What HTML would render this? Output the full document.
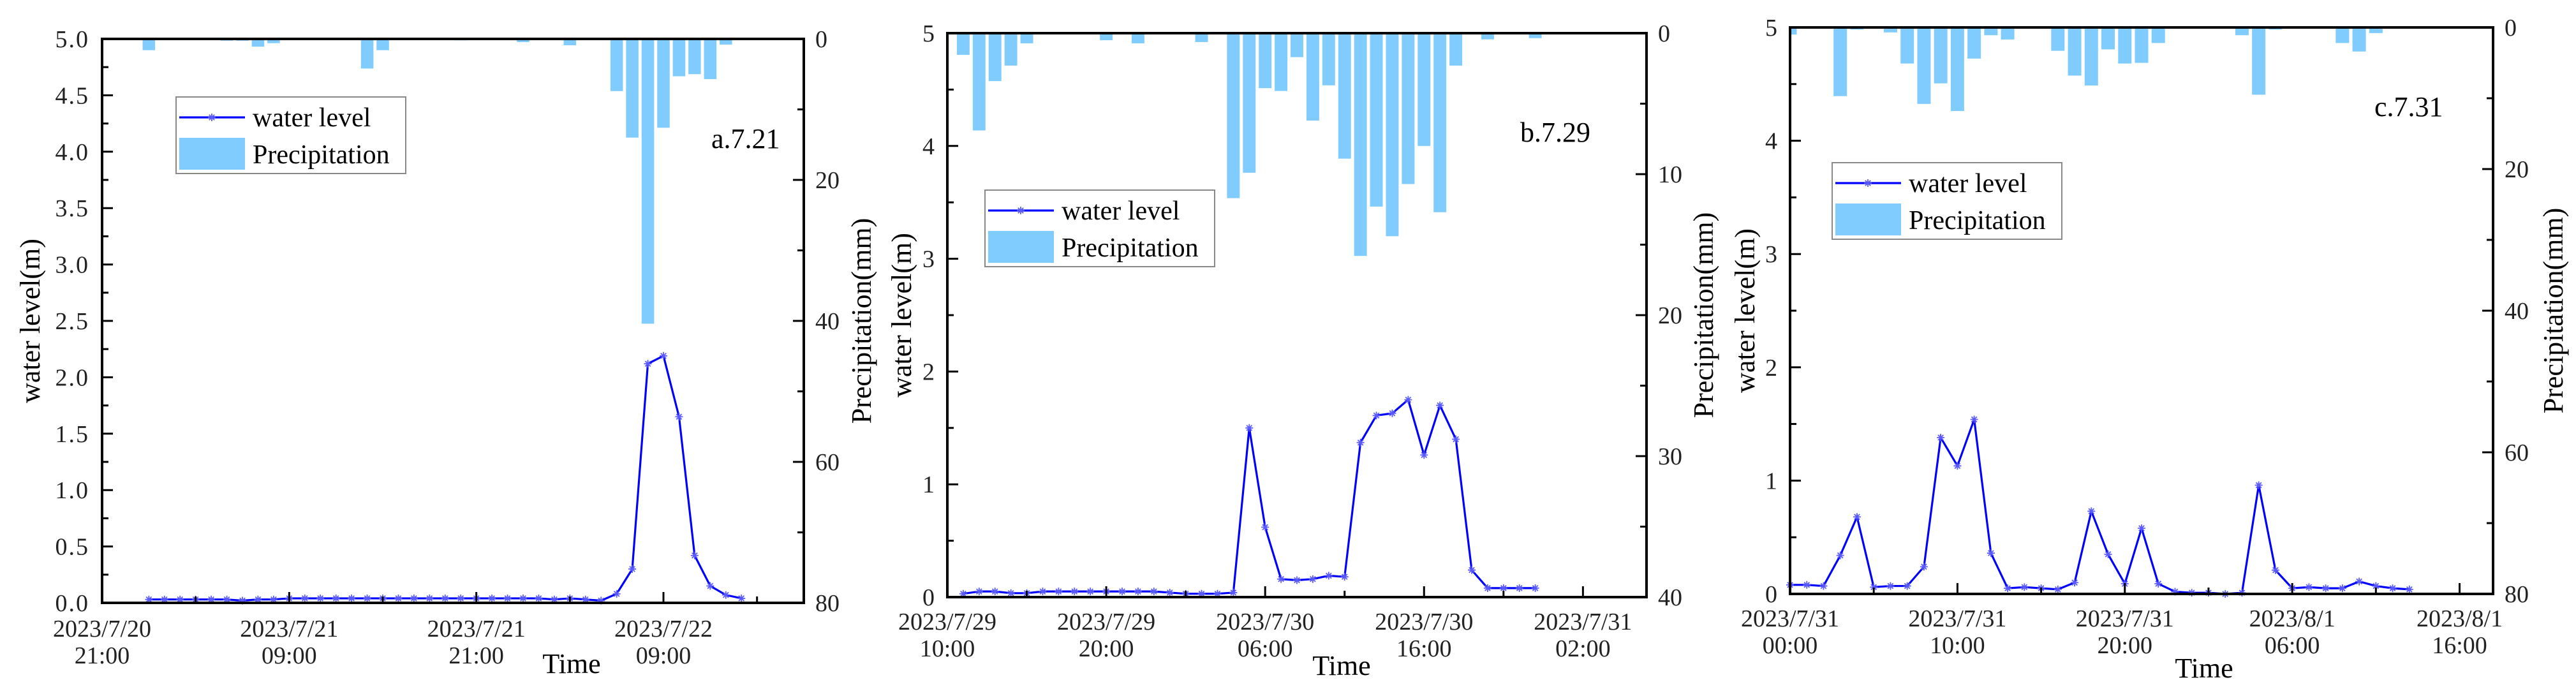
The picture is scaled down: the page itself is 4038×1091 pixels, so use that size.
<!DOCTYPE html>
<html><head><meta charset="utf-8"><style>
html,body{margin:0;padding:0;background:#fff;}
svg{display:block;font-family:"Liberation Serif","Times New Roman",serif;}
</style></head><body>
<svg id="fig" xmlns="http://www.w3.org/2000/svg" width="4038" height="1091" viewBox="0 0 4038 1091"></svg>
<script>
// ---- Panel a (7.21) data: hour offsets from 2023/7/20 21:00 ----
const aHours = [3,4,5,6,7,8,9,10,11,12,13,14,15,16,17,18,19,20,21,22,23,24,25,26,27,28,29,30,31,32,33,34,35,36,37,38,39,40,41];
const aLevel = [0.03,0.03,0.03,0.03,0.03,0.03,0.02,0.03,0.03,0.04,0.04,0.04,0.04,0.04,0.04,0.04,0.04,0.04,0.04,0.04,0.04,0.04,0.04,0.04,0.04,0.04,0.03,0.04,0.03,0.02,0.08,0.30,2.12,2.19,1.65,0.42,0.15,0.07,0.04];
const aRainHours = [3,8,9,10,11,17,18,23,27,30,33,34,35,36,37,38,39,40];
const aRain = [1.6,0.25,0.25,1.1,0.6,4.2,1.6,0.2,0.45,0.9,7.4,14.0,40.4,12.6,5.3,5.0,5.7,0.8];
const aXTicks = ["2023/7/20|21:00","2023/7/21|09:00","2023/7/21|21:00","2023/7/22|09:00"];
const aYTicks = ["0.0","0.5","1.0","1.5","2.0","2.5","3.0","3.5","4.0","4.5","5.0"];
const aRTicks = ["0","20","40","60","80"];

// ---- Panel b (7.29) data: hour offsets from 2023/7/29 10:00 ----
const bHours = [1,2,3,4,5,6,7,8,9,10,11,12,13,14,15,16,17,18,19,20,21,22,23,24,25,26,27,28,29,30,31,32,33,34,35,36,37];
const bLevel = [0.03,0.05,0.05,0.035,0.035,0.05,0.05,0.05,0.05,0.05,0.05,0.05,0.05,0.04,0.03,0.03,0.03,0.04,1.50,0.62,0.16,0.15,0.16,0.19,0.18,1.37,1.61,1.63,1.75,1.26,1.70,1.40,0.24,0.08,0.08,0.08,0.08];
const bRainHours = [1,2,3,4,5,10,12,13,16,17,18,19,20,21,22,23,24,25,26,27,28,29,30,31,32,34,37];
const bRain = [1.54,6.9,3.4,2.3,0.72,0.5,0.72,0.06,0.63,0.05,11.7,9.9,3.9,4.1,1.7,6.2,3.7,8.9,15.8,12.3,14.4,10.7,8.0,12.7,2.3,0.44,0.35];
const bXTicks = ["2023/7/29|10:00","2023/7/29|20:00","2023/7/30|06:00","2023/7/30|16:00","2023/7/31|02:00"];
const bYTicks = ["0","1","2","3","4","5"];
const bRTicks = ["0","10","20","30","40"];

// ---- Panel c (7.31) data: hour offsets from 2023/7/31 00:00 ----
const cHours = [0,1,2,3,4,5,6,7,8,9,10,11,12,13,14,15,16,17,18,19,20,21,22,23,24,25,26,27,28,29,30,31,32,33,34,35,36,37];
const cLevel = [0.08,0.08,0.07,0.34,0.68,0.06,0.07,0.07,0.24,1.38,1.13,1.54,0.36,0.05,0.06,0.05,0.04,0.10,0.73,0.35,0.09,0.58,0.09,0.02,0.01,0.01,0.0,0.01,0.96,0.21,0.05,0.06,0.05,0.05,0.11,0.07,0.05,0.04];
const cRainHours = [0,3,4,6,7,8,9,10,11,12,13,16,17,18,19,20,21,22,27,28,29,33,34,35];
const cRain = [1.0,9.7,0.3,0.7,5.1,10.8,7.9,11.8,4.4,1.1,1.7,3.3,6.8,8.2,3.1,5.1,5.0,2.2,1.1,9.5,0.3,2.2,3.4,0.8];
const cXTicks = ["2023/7/31|00:00","2023/7/31|10:00","2023/7/31|20:00","2023/8/1|06:00","2023/8/1|16:00"];
const cYTicks = ["0","1","2","3","4","5"];
const cRTicks = ["0","20","40","60","80"];

const NS = "http://www.w3.org/2000/svg";
const svg = document.getElementById("fig");
function mk(tag, attrs, parent, text){
  const e = document.createElementNS(NS, tag);
  for (const k in attrs) e.setAttribute(k, attrs[k]);
  if (text !== undefined) e.textContent = text;
  (parent || svg).appendChild(e);
  return e;
}

function panel(cfg){
  const g = mk("g", {});
  
  
  const L=cfg.L, R=cfg.R, T=cfg.T, B=cfg.B;
  const xs = h => L + (h - 0) / cfg.xMax * (R - L);
  const ys = v => B - v / cfg.yMax * (B - T);
  const rs = v => T + v / cfg.rMax * (B - T);
  // bars
  const bw = (R-L)/cfg.xMax*0.8;
  cfg.rainH.forEach((h,i)=>{
    let x0 = xs(h)-bw/2, x1 = xs(h)+bw/2;
    if (x0 < L) x0 = L;
    const r = mk("rect", {x:x0, y:T, width:x1-x0, height:rs(cfg.rain[i])-T, fill:"#80ccff"}, g);
    
    
  });
  // line
  const pts = cfg.hours.map((h,i)=>xs(h)+","+ys(cfg.level[i])).join(" ");
  const pl = mk("polyline", {points:pts, fill:"none", stroke:"#0000ff", "stroke-width":3.2}, g);
  
  
  cfg.hours.forEach((h,i)=>{
    const cx=xs(h), cy=ys(cfg.level[i]), s=6;
    const m = mk("path", {d:`M${cx-s},${cy}H${cx+s}M${cx},${cy-s}V${cy+s}M${cx-s*0.7},${cy-s*0.7}L${cx+s*0.7},${cy+s*0.7}M${cx-s*0.7},${cy+s*0.7}L${cx+s*0.7},${cy-s*0.7}`, stroke:"#5a5aff", "stroke-width":1.8, fill:"none"}, g);
    
    
  });
  // frame
  const fr = mk("rect", {x:L, y:T, width:R-L, height:B-T, fill:"none", stroke:"#000", "stroke-width":4}, g);
  
  
  // left ticks
  const ny = cfg.yTicks.length-1;
  for (let i=0;i<=ny*2;i++){
    const v = cfg.yMax*i/(ny*2), y=ys(v), len = i%2===0?17:10;
    mk("line",{x1:L,y1:y,x2:L+len,y2:y,stroke:"#000","stroke-width":3},g);
  }
  cfg.yTicks.forEach((t,i)=>{
    const tx = mk("text",{x:L-20,y:ys(cfg.yMax*i/ny)+13,"text-anchor":"end","font-size":38,fill:"#222","letter-spacing":cfg.ls||0},g,t);
    
    
  });
  // right ticks
  const nr = cfg.rTicks.length-1;
  for (let i=0;i<=nr*2;i++){
    const y = rs(cfg.rMax*i/(nr*2)), len = i%2===0?17:10;
    mk("line",{x1:R,y1:y,x2:R-len,y2:y,stroke:"#000","stroke-width":3},g);
  }
  cfg.rTicks.forEach((t,i)=>{
    const tx = mk("text",{x:R+18,y:rs(cfg.rMax*i/nr)+13,"font-size":38,fill:"#222"},g,t);
    
    
  });
  // x ticks
  const nsteps = Math.floor(cfg.xMax/(cfg.xStep/2)+1e-6);
  for (let i=0;i<=nsteps;i++){
    const x = xs(i*cfg.xStep/2), len = i%2===0?17:10;
    mk("line",{x1:x,y1:B,x2:x,y2:B-len,stroke:"#000","stroke-width":3},g);
  }
  cfg.xTicks.forEach((t,i)=>{
    const x = xs(i*cfg.xStep), parts=t.split("|");
    const tx = mk("text",{x:x,y:cfg.xl1,"text-anchor":"middle","font-size":38,fill:"#222"},g,parts[0]);
    
    
    const tx2 = mk("text",{x:x,y:cfg.xl1+42,"text-anchor":"middle","font-size":38,fill:"#222"},g,parts[1]);
    
    
  });
  // titles
  const xt = mk("text",{x:cfg.timeX,y:cfg.timeY,"text-anchor":"middle","font-size":44,fill:"#000"},g,"Time");
  
  
  const yt = mk("text",{x:0,y:0,"text-anchor":"middle","font-size":44,fill:"#000",transform:`translate(${cfg.ytX},${(T+B)/2}) rotate(-90)`},g,"water level(m)");
  
  
  const rt = mk("text",{x:0,y:0,"text-anchor":"middle","font-size":44,fill:"#000",transform:`translate(${cfg.rtX},${(T+B)/2}) rotate(-90)`},g,"Precipitation(mm)");
  
  
  const pl2 = mk("text",{x:cfg.labX,y:cfg.labY,"font-size":44,fill:"#000"},g,cfg.label);
  
  
  // legend
  const lg = mk("g",{},g);
  
  
  const lx=cfg.legX, ly=cfg.legY;
  mk("rect",{x:lx,y:ly,width:360,height:120,fill:"#fff",stroke:"#888","stroke-width":2},lg);
  mk("line",{x1:lx+5,y1:ly+32,x2:lx+108,y2:ly+32,stroke:"#0000ff","stroke-width":3.2},lg);
  const cx=lx+56, cy=ly+32, s=6;
  mk("path",{d:`M${cx-s},${cy}H${cx+s}M${cx},${cy-s}V${cy+s}M${cx-s*0.7},${cy-s*0.7}L${cx+s*0.7},${cy+s*0.7}M${cx-s*0.7},${cy+s*0.7}L${cx+s*0.7},${cy-s*0.7}`,stroke:"#5a5aff","stroke-width":1.8},lg);
  const l1 = mk("text",{x:lx+120,y:ly+46,"font-size":42,fill:"#000"},lg,"water level");
  
  
  mk("rect",{x:lx+5,y:ly+64,width:103,height:50,fill:"#80ccff"},lg);
  const l2 = mk("text",{x:lx+120,y:ly+104,"font-size":42,fill:"#000"},lg,"Precipitation");
  
  
}

panel({name:"panel-a", L:160,R:1260,T:61,B:945, xMax:45, xStep:12, yMax:5, rMax:80,
  hours:aHours, level:aLevel, rainH:aRainHours, rain:aRain, xTicks:aXTicks, yTicks:aYTicks, rTicks:aRTicks, ls:2,
  xl1:998, timeX:896, timeY:1055, ytX:62, rtX:1365, label:"a.7.21", labX:1115, labY:232, legX:276, legY:152});
panel({name:"panel-b", L:1485,R:2581,T:52,B:936, xMax:44, xStep:10, yMax:5, rMax:40,
  hours:bHours, level:bLevel, rainH:bRainHours, rain:bRain, xTicks:bXTicks, yTicks:bYTicks, rTicks:bRTicks,
  xl1:987, timeX:2103, timeY:1058, ytX:1428, rtX:2685, label:"b.7.29", labX:2383, labY:222, legX:1544, legY:298});
panel({name:"panel-c", L:2806,R:3908,T:43,B:931, xMax:42, xStep:10, yMax:5, rMax:80,
  hours:cHours, level:cLevel, rainH:cRainHours, rain:cRain, xTicks:cXTicks, yTicks:cYTicks, rTicks:cRTicks,
  xl1:982, timeX:3455, timeY:1062, ytX:2750, rtX:4017, label:"c.7.31", labX:3722, labY:182, legX:2872, legY:255});
</script>
</body></html>
